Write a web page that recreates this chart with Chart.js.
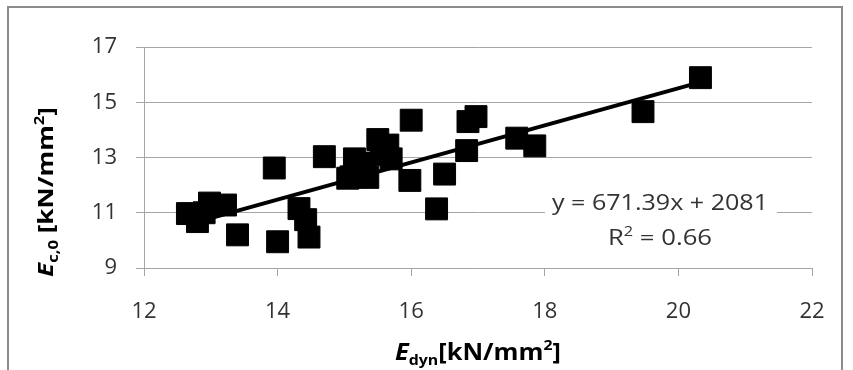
<!DOCTYPE html>
<html>
<head>
<meta charset="utf-8">
<script src="https://cdn.jsdelivr.net/npm/chart.js@4.4.1/dist/chart.umd.min.js"></script>
<style>
  html, body { margin: 0; padding: 0; background: #ffffff; }
  #wrap { width: 853px; height: 370px; position: relative; }
</style>
</head>
<body>
<div id="wrap"><canvas id="chart" width="853" height="370"></canvas></div>
<script>
// Data
const EDYN = [12.65, 12.80, 12.98, 13.22, 13.40, 13.95, 14.00, 14.32, 14.42, 14.47,
  14.70, 15.05, 15.15, 15.20, 15.35, 15.30, 15.50, 15.55, 15.65, 15.70,
  15.98, 16.00, 16.38, 16.50, 16.83, 16.85, 16.97, 17.58, 17.85, 19.47, 20.33, 12.90, 15.10];
const EC0 = [10.97, 10.68, 11.35, 11.28, 10.20, 12.62, 9.95, 11.15, 10.75, 10.12,
  13.03, 12.25, 12.95, 12.55, 12.28, 12.80, 13.65, 13.10, 13.45, 12.95,
  12.17, 14.35, 11.14, 12.40, 13.25, 14.30, 14.48, 13.70, 13.42, 14.66, 15.89, 11.00, 12.30];

// trendline ends
const TREND_X = [12.65, 20.33];
const TREND_Y = [10.57, 15.73];

const X_TICKS = [12, 14, 16, 18, 20, 22];
const Y_TICKS = [9, 11, 13, 15, 17];

const EQUATION = "y = 671.39x + 2081";
const R2_LABEL = "R";
const R2_VALUE = " = 0.66";

const GRID = "#a6a6a6";
const FONT = "'Open Sans', 'Noto Sans', sans-serif";

// draw a run of text pieces with different fonts, fitted to a width
function drawRich(ctx, runs, cx, baseY, targetWidth) {
  let total = 0;
  runs.forEach((r) => {
    ctx.font = r.font;
    r.w = ctx.measureText(r.text).width;
    total += r.w;
  });
  const sx = targetWidth ? targetWidth / total : 1;
  const w = total * sx;
  ctx.save();
  ctx.translate(cx - w / 2, baseY);
  ctx.scale(sx, 1);
  ctx.textBaseline = "alphabetic";
  ctx.textAlign = "left";
  let x = 0;
  runs.forEach((r) => {
    ctx.font = r.font;
    ctx.fillText(r.text, x, r.dy || 0);
    x += r.w;
  });
  ctx.restore();
}

const decorPlugin = {
  id: "decor",
  afterDraw(chart) {
    const ctx = chart.ctx;
    ctx.save();

    // outer frame
    ctx.strokeStyle = "#8c8c8c";
    ctx.lineWidth = 2;
    ctx.strokeRect(8, 7, 834, 420);

    ctx.fillStyle = "#000000";

    // x axis title
    drawRich(ctx, [
      { text: "E", font: "italic bold 24px " + FONT },
      { text: "dyn", font: "bold 15px " + FONT, dy: 5 },
      { text: "[kN/mm", font: "bold 24px " + FONT },
      { text: "2", font: "bold 15px " + FONT, dy: -10 },
      { text: "]", font: "bold 24px " + FONT },
    ], 478, 360, 166);

    // y axis title
    ctx.save();
    ctx.translate(53, 192);
    ctx.rotate(-Math.PI / 2);
    drawRich(ctx, [
      { text: "E", font: "italic bold 22px " + FONT },
      { text: "c,0", font: "bold 14px " + FONT, dy: 5 },
      { text: " [kN/mm", font: "bold 22px " + FONT },
      { text: "2", font: "bold 14px " + FONT, dy: -9 },
      { text: "]", font: "bold 22px " + FONT },
    ], 0, 0, 170);
    ctx.restore();

    // trendline label
    ctx.fillStyle = "#ffffff";
    ctx.fillRect(545, 186, 232, 66);
    ctx.fillStyle = "#333333";
    drawRich(ctx, [{ text: EQUATION, font: "22px " + FONT }], 660, 210, 216);
    drawRich(ctx, [
      { text: R2_LABEL, font: "22px " + FONT },
      { text: "2", font: "14px " + FONT, dy: -9 },
      { text: R2_VALUE, font: "22px " + FONT },
    ], 660, 245, 104);

    ctx.restore();
  },
};

const points = EDYN.map((x, i) => ({ x, y: EC0[i] }));
const trend = TREND_X.map((x, i) => ({ x, y: TREND_Y[i] }));

new Chart(document.getElementById("chart"), {
  type: "scatter",
  data: {
    datasets: [
      {
        type: "line",
        data: trend,
        borderColor: "#000000",
        borderWidth: 4,
        pointRadius: 0,
        fill: false,
      },
      {
        data: points,
        pointStyle: "rect",
        pointRadius: 15.5,
        pointHoverRadius: 15.5,
        backgroundColor: "#000000",
        borderColor: "#000000",
        borderWidth: 1,
      },
    ],
  },
  options: {
    responsive: false,
    animation: false,
    devicePixelRatio: 1,
    layout: { padding: { top: 47, right: 41, left: 0, bottom: 0 } },
    plugins: {
      legend: { display: false },
      tooltip: { enabled: false },
    },
    scales: {
      x: {
        type: "linear",
        min: 12,
        max: 22,
        afterBuildTicks: (s) => { s.ticks = X_TICKS.map((v) => ({ value: v })); },
        afterFit: (s) => { s.height = 102; },
        grid: { drawOnChartArea: false, drawTicks: true, tickLength: 8, color: GRID },
        border: { color: GRID, width: 1 },
        ticks: { color: "#333333", font: { family: FONT, size: 22 }, padding: 23 },
      },
      y: {
        type: "linear",
        min: 9,
        max: 17,
        afterBuildTicks: (s) => { s.ticks = Y_TICKS.map((v) => ({ value: v })); },
        afterFit: (s) => { s.width = 144; },
        grid: { drawOnChartArea: true, drawTicks: true, tickLength: 8, color: GRID },
        border: { color: GRID, width: 1 },
        ticks: { color: "#333333", font: { family: FONT, size: 22 }, padding: 19 },
      },
    },
  },
  plugins: [decorPlugin],
});
</script>
</body>
</html>
